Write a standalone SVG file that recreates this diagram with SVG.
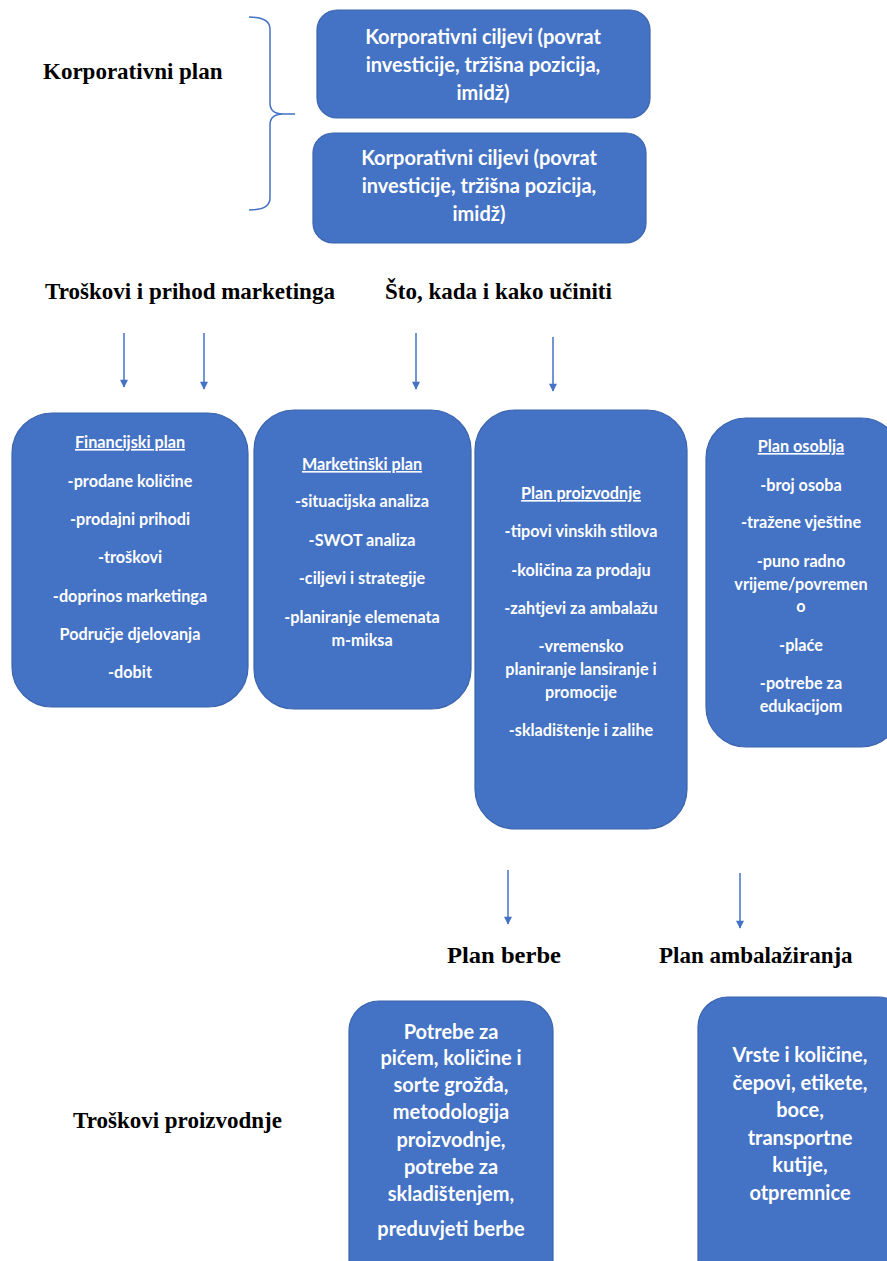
<svg xmlns="http://www.w3.org/2000/svg" width="887" height="1261" viewBox="0 0 887 1261">
<style>
.box{fill:#4472C4;stroke:#3B64AE;stroke-width:1.2}
.t{font-family:Lato,"Liberation Sans",sans-serif;font-weight:bold;fill:#fff;text-anchor:middle}
.s14{font-size:16.2px}
.s16{font-size:20px}
.s15{font-size:20px}
.h{font-family:"Liberation Serif","Times New Roman",serif;font-weight:bold;font-size:23px;fill:#000}
.u{text-decoration:underline}
.c{stroke:#4472C4;stroke-width:1.5;fill:none}
</style>
<defs>
<marker id="ah" viewBox="0 0 10 10" refX="9" refY="5" markerWidth="9" markerHeight="8" markerUnits="userSpaceOnUse" orient="auto">
<path d="M0,0 L10,5 L0,10 z" fill="#4472C4"/>
</marker>
</defs>
<rect width="887" height="1261" fill="#fff"/>

<g id="labels">
<text class="h" x="43" y="79">Korporativni plan</text>
<text class="h" x="45" y="299">Troškovi i prihod marketinga</text>
<text class="h" x="385" y="299">Što, kada i kako učiniti</text>
<text class="h" x="447" y="963" textLength="114" lengthAdjust="spacingAndGlyphs">Plan berbe</text>
<text class="h" x="659" y="963">Plan ambalažiranja</text>
<text class="h" x="73" y="1128">Troškovi proizvodnje</text>
</g>

<g id="connectors">
<path class="c" d="M249,17 Q270,17 270,29 V103 Q270,114 283,114 H295 M283,114 Q270,114 270,125 V198 Q270,210 249,210"/>
<line class="c" x1="124" y1="333" x2="124" y2="387" marker-end="url(#ah)"/>
<line class="c" x1="204" y1="333" x2="204" y2="389" marker-end="url(#ah)"/>
<line class="c" x1="416" y1="333" x2="416" y2="389" marker-end="url(#ah)"/>
<line class="c" x1="553" y1="337" x2="553" y2="391" marker-end="url(#ah)"/>
<line class="c" x1="508" y1="870" x2="508" y2="924" marker-end="url(#ah)"/>
<line class="c" x1="740" y1="873" x2="740" y2="928" marker-end="url(#ah)"/>
</g>

<g id="corp1">
<rect class="box" x="317" y="10" width="333" height="108" rx="20"/>
<text class="t s16" x="483" y="44">Korporativni ciljevi (povrat</text>
<text class="t s16" x="483" y="72">investicije, tržišna pozicija,</text>
<text class="t s16" x="483" y="100">imidž)</text>
</g>

<g id="corp2">
<rect class="box" x="313" y="133" width="333" height="110" rx="20"/>
<text class="t s16" x="479" y="165">Korporativni ciljevi (povrat</text>
<text class="t s16" x="479" y="193">investicije, tržišna pozicija,</text>
<text class="t s16" x="479" y="221">imidž)</text>
</g>

<g id="financijski">
<rect class="box" x="12" y="413" width="236" height="294" rx="40"/>
<text class="t s14 u" x="130" y="448">Financijski plan</text>
<text class="t s14" x="130" y="487">-prodane količine</text>
<text class="t s14" x="130" y="525">-prodajni prihodi</text>
<text class="t s14" x="130" y="563">-troškovi</text>
<text class="t s14" x="130" y="602">-doprinos marketinga</text>
<text class="t s14" x="130" y="640">Područje djelovanja</text>
<text class="t s14" x="130" y="678">-dobit</text>
</g>

<g id="marketinski">
<rect class="box" x="254" y="410" width="217" height="299" rx="40"/>
<text class="t s14 u" x="362" y="470">Marketinški plan</text>
<text class="t s14" x="362" y="507">-situacijska analiza</text>
<text class="t s14" x="362" y="546">-SWOT analiza</text>
<text class="t s14" x="362" y="584">-ciljevi i strategije</text>
<text class="t s14" x="362" y="623">-planiranje elemenata</text>
<text class="t s14" x="362" y="646">m-miksa</text>
</g>

<g id="proizvodnja">
<rect class="box" x="475" y="410" width="212" height="419" rx="40"/>
<text class="t s14 u" x="581" y="499">Plan proizvodnje</text>
<text class="t s14" x="581" y="537">-tipovi vinskih stilova</text>
<text class="t s14" x="581" y="576">-količina za prodaju</text>
<text class="t s14" x="581" y="614">-zahtjevi za ambalažu</text>
<text class="t s14" x="581" y="652">-vremensko</text>
<text class="t s14" x="581" y="675">planiranje lansiranje i</text>
<text class="t s14" x="581" y="698">promocije</text>
<text class="t s14" x="581" y="736">-skladištenje i zalihe</text>
</g>

<g id="osoblje">
<rect class="box" x="706" y="418" width="195" height="329" rx="40"/>
<text class="t s14 u" x="801" y="452">Plan osoblja</text>
<text class="t s14" x="801" y="491">-broj osoba</text>
<text class="t s14" x="801" y="528">-tražene vještine</text>
<text class="t s14" x="801" y="567">-puno radno</text>
<text class="t s14" x="801" y="590">vrijeme/povremen</text>
<text class="t s14" x="801" y="612">o</text>
<text class="t s14" x="801" y="651">-plaće</text>
<text class="t s14" x="801" y="689">-potrebe za</text>
<text class="t s14" x="801" y="712">edukacijom</text>
</g>

<g id="berba">
<rect class="box" x="349" y="1001" width="204" height="290" rx="30"/>
<text class="t s15" x="451" y="1039">Potrebe za</text>
<text class="t s15" x="451" y="1065">pićem, količine i</text>
<text class="t s15" x="451" y="1092">sorte grožđa,</text>
<text class="t s15" x="451" y="1119">metodologija</text>
<text class="t s15" x="451" y="1147">proizvodnje,</text>
<text class="t s15" x="451" y="1174">potrebe za</text>
<text class="t s15" x="451" y="1201">skladištenjem,</text>
<text class="t s15" x="451" y="1236">preduvjeti berbe</text>
</g>

<g id="ambalaza">
<rect class="box" x="698" y="997" width="210" height="294" rx="30"/>
<text class="t s15" x="800" y="1062">Vrste i količine,</text>
<text class="t s15" x="800" y="1090">čepovi, etikete,</text>
<text class="t s15" x="800" y="1117">boce,</text>
<text class="t s15" x="800" y="1145">transportne</text>
<text class="t s15" x="800" y="1172">kutije,</text>
<text class="t s15" x="800" y="1200">otpremnice</text>
</g>
</svg>
